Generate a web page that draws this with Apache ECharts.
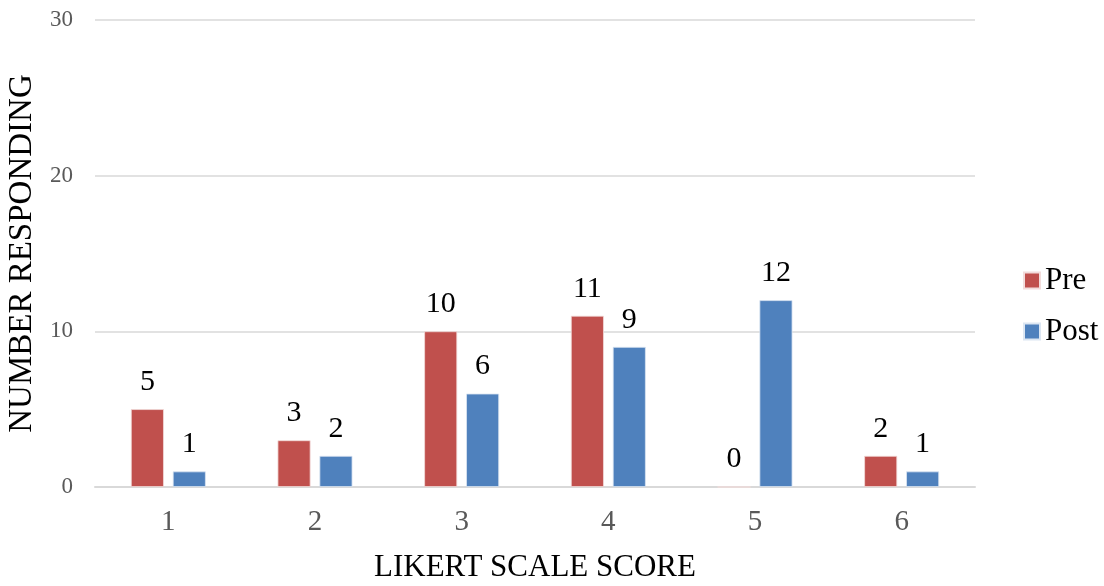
<!DOCTYPE html>
<html>
<head>
<meta charset="utf-8">
<script src="https://cdn.jsdelivr.net/npm/echarts@6/dist/echarts.min.js"></script>
<style>
  html, body { margin: 0; padding: 0; background: #fff; }
  #chart { width: 1104px; height: 586px; }
</style>
</head>
<body>
<div id="chart"></div>
<script>
// Likert scale scores and responses before / after
const categories = ['1', '2', '3', '4', '5', '6'];
const preValues = [5, 3, 10, 11, 0, 2];
const postValues = [1, 2, 6, 9, 12, 1];
const yTicks = [0, 10, 20, 30];

const FONT = '"Liberation Serif", "Times New Roman", serif';

const chart = echarts.init(document.getElementById('chart'));

const labelStyle = {
  show: true,
  position: 'top',
  distance: 12,
  color: '#000',
  fontFamily: FONT,
  fontSize: 30
};

chart.setOption({
  animation: false,
  textStyle: { fontFamily: FONT },
  grid: { left: 95, right: 129, top: 20, bottom: 99, outerBoundsMode: 'none', containLabel: false },
  legend: {
    orient: 'vertical',
    left: 1018,
    top: 260,
    itemWidth: 16,
    itemHeight: 16,
    itemGap: 20,
    icon: 'rect',
    textStyle: { fontFamily: FONT, fontSize: 31, color: '#000' },
    data: ['Pre', 'Post']
  },
  xAxis: {
    type: 'category',
    data: categories,
    name: 'LIKERT SCALE SCORE',
    nameLocation: 'middle',
    nameGap: 65,
    nameTextStyle: { fontFamily: FONT, fontSize: 31, color: '#000' },
    axisLine: { lineStyle: { color: '#d9d9d9', width: 2 } },
    axisTick: { show: false },
    axisLabel: { color: '#595959', fontFamily: FONT, fontSize: 29, margin: 21 }
  },
  yAxis: {
    type: 'value',
    min: yTicks[0],
    max: yTicks[yTicks.length - 1],
    interval: 10,
    name: 'NUMBER RESPONDING',
    nameLocation: 'middle',
    nameGap: 46,
    nameTextStyle: { fontFamily: FONT, fontSize: 33, color: '#000' },
    axisLine: { show: false },
    axisTick: { show: false },
    axisLabel: { color: '#595959', fontFamily: FONT, fontSize: 23, margin: 22 },
    splitLine: { lineStyle: { color: '#d9d9d9', width: 1.5 } }
  },
  series: [
    {
      name: 'Pre',
      type: 'bar',
      data: preValues,
      barWidth: 33,
      barGap: '27%',
      itemStyle: { color: '#C0504D', borderColor: '#f2dcdb', borderWidth: 0.8 },
      label: labelStyle
    },
    {
      name: 'Post',
      type: 'bar',
      data: postValues,
      barWidth: 33,
      itemStyle: { color: '#4F81BD', borderColor: '#dce6f2', borderWidth: 0.8 },
      label: labelStyle
    }
  ]
});
</script>
</body>
</html>
